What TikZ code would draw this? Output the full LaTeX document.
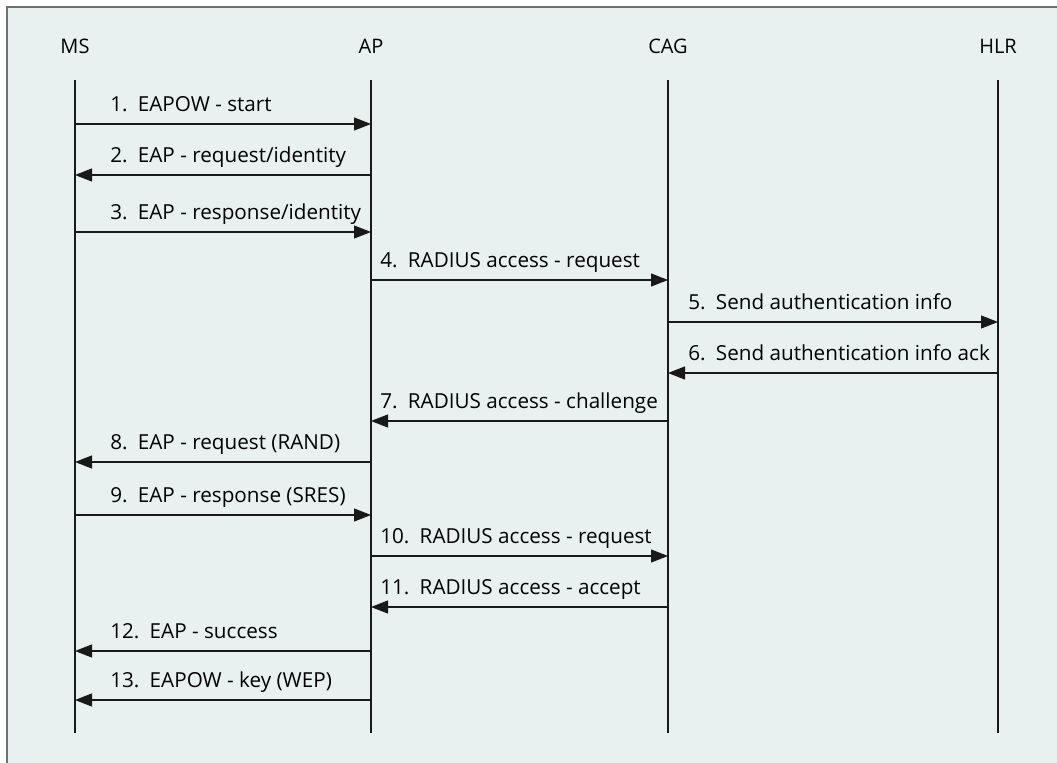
\documentclass[tikz,border=0pt]{standalone}
\usepackage{fontspec}
\setmainfont{Open Sans}
\usetikzlibrary{arrows.meta}
\definecolor{panel}{HTML}{E8F1F0}
\definecolor{frame}{HTML}{707070}
\tikzset{
  lifeline/.style={line width=1.1pt, black!90},
  msg/.style={line width=0.9pt, black!90, -{Triangle[length=12.75pt,width=9.75pt]}},
  head/.style={font=\fontsize{15}{17}\selectfont, anchor=base},
  lbl/.style={font=\fontsize{15.5}{18}\selectfont, anchor=base west, inner sep=0pt},
}
% one message: y, from lifeline, to lifeline, label x, label text
\newcommand\seqmsg[5]{%
  \draw[msg] (#2 |- 0,#1) -- (#3 |- 0,#1);
  \node[lbl] at (#4,#1-12.5) {#5};
}
\begin{document}
\begin{tikzpicture}[x=0.75pt,y=-0.75pt]
  \useasboundingbox (0,0) rectangle (1057,763);
  % panel with frame on the top and left edges
  \fill[panel] (7,7) rectangle (1057,763);
  \draw[frame, line width=1.5pt] (7,763) -- (7,7) -- (1057,7);

  % participants
  \node[head] (ms)  at (75,54)  {MS};
  \node[head] (ap)  at (371,54) {AP};
  \node[head] (cag) at (668,54) {CAG};
  \node[head] (hlr) at (998,54) {HLR};

  % lifelines
  \foreach \n/\x in {ms/75, ap/371, cag/668, hlr/998} {
    \coordinate (\n T) at (\x,80);
    \coordinate (\n B) at (\x,733);
    \draw[lifeline] (\n T) -- (\n B);
  }

  % messages
  \seqmsg{124}{msT}{apT}{110}{1.\hspace{0.5em}EAPOW - start}
  \seqmsg{175}{apT}{msT}{110}{2.\hspace{0.5em}EAP - request/identity}
  \seqmsg{232}{msT}{apT}{110}{3.\hspace{0.5em}EAP - response/identity}
  \seqmsg{280}{apT}{cagT}{380}{4.\hspace{0.5em}RADIUS access - request}
  \seqmsg{322}{cagT}{hlrT}{688}{5.\hspace{0.5em}Send authentication info}
  \seqmsg{373}{hlrT}{cagT}{688}{6.\hspace{0.5em}Send authentication info ack}
  \seqmsg{421}{cagT}{apT}{380}{7.\hspace{0.5em}RADIUS access - challenge}
  \seqmsg{462}{apT}{msT}{110}{8.\hspace{0.5em}EAP - request (RAND)}
  \seqmsg{515}{msT}{apT}{110}{9.\hspace{0.5em}EAP - response (SRES)}
  \seqmsg{556}{apT}{cagT}{380}{10.\hspace{0.5em}RADIUS access - request}
  \seqmsg{607}{cagT}{apT}{380}{11.\hspace{0.5em}RADIUS access - accept}
  \seqmsg{651}{apT}{msT}{110}{12.\hspace{0.5em}EAP - success}
  \seqmsg{700}{apT}{msT}{110}{13.\hspace{0.5em}EAPOW - key (WEP)}
\end{tikzpicture}
\end{document}
